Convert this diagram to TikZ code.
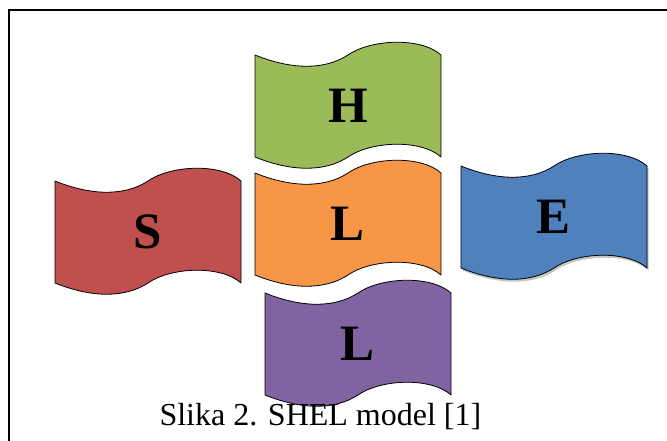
\documentclass[tikz,border=0pt]{standalone}
\usepackage{fontspec}
\setmainfont{Liberation Serif}
\usepackage{tikz}
\usetikzlibrary{
  positioning,  % Function "of" (e.g. [right=of x])
  shadows,      % Style "drop shadow"
}
\definecolor{hgreen}{HTML}{9BBB59}
\definecolor{sred}{HTML}{C0504D}
\definecolor{lorange}{HTML}{F79646}
\definecolor{eblue}{HTML}{4F81BD}
\definecolor{lpurple}{HTML}{8064A2}
\def\flagw{186}
\def\flaghw{93}  % half width: the wave turns here
\def\flagh{102}
% #1 extra style, #2 name, #3 upper left corner, #4 colour, #5 letter
\newcommand{\flag}[5][]{
  \path[my flag,fill=#4,#1] (#3) coordinate (#2-nw)
    .. controls +(37,15) and +(-23,15) .. ++(\flaghw,0)
    .. controls +(23,-16) and +(-20,-18) .. ++(\flaghw,0)
    -- ++(0,\flagh)
    .. controls +(-20,-18) and +(23,-16) .. ++(-\flaghw,0)
    .. controls +(-23,15) and +(37,15) .. ++(-\flaghw,0)
    -- cycle;
  \node[my letter] (#2) at ([shift={(\flaghw,\flagh/2)}]#2-nw) {#5};
}
\tikzset{
  my flag/.style={
    draw=black,
    line width=0.8pt,
    line join=round
  },
  my letter/.style={
    inner sep=0pt,
    font=\fontsize{51}{56}\selectfont\bfseries
  },
  my caption/.style={
    anchor=base,
    inner sep=0pt,
    font=\fontsize{32}{38}\selectfont
  },
  my frame/.style={
    draw=black,
    line width=2.4pt
  },
  my shadow/.style={
    drop shadow={shadow xshift=1.5pt,shadow yshift=-2.5pt,fill=black!45}
  }
}
\begin{document}
\begin{tikzpicture}[x=1pt,y=-1pt]
\useasboundingbox (0,0) rectangle (667,441);
\clip (0,0) rectangle (667,441);
\draw[my frame] (8.7,10) rectangle (700,480);
\flag{H}{255,55}{hgreen}{H}
\flag{L}{255,173}{lorange}{L}
\flag{S}{55,181}{sred}{S}
\flag[my shadow]{E}{461,166}{eblue}{E}
\flag{L2}{265,293}{lpurple}{L}
\node[my caption] (cap) at (320.4,425) {Slika 2. SHEL model [1]};
\end{tikzpicture}
\end{document}
